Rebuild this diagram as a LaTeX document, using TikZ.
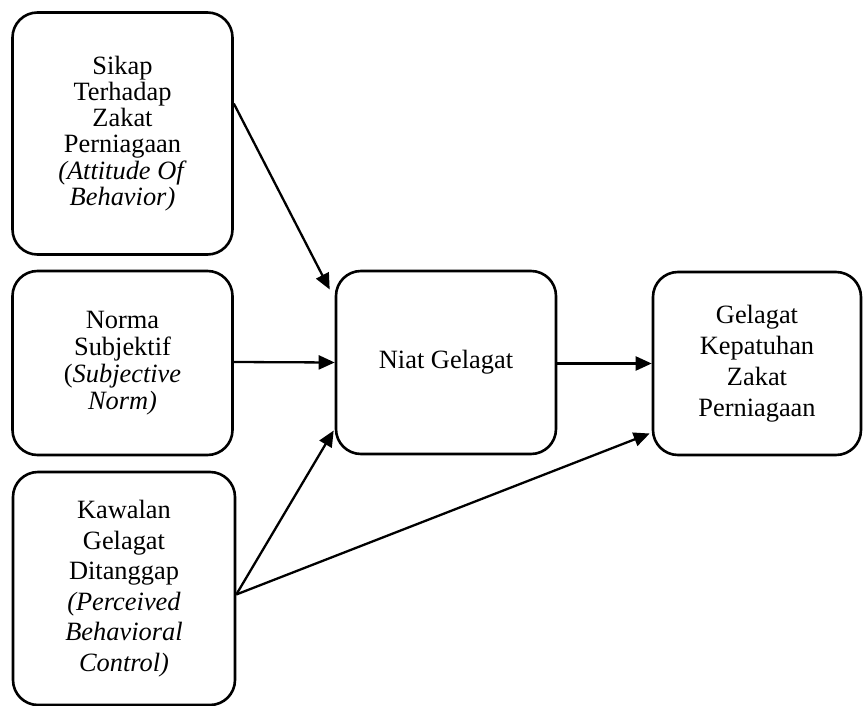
\documentclass[tikz,border=0pt]{standalone}
\usepackage{fontspec}
\setmainfont{Liberation Serif}
\usetikzlibrary{arrows.meta}
\begin{document}
\begin{tikzpicture}[x=1pt,y=-1pt,
  box/.style={draw, line width=2.6pt, rounded corners=25pt, align=center,
    inner sep=0pt},
  txt/.style={font=\fontsize{26.4}{#1}\selectfont},
  arr/.style={line width=2.3pt, -{Triangle[length=16pt,width=14pt]}}]
\useasboundingbox (0,0) rectangle (863,706);

% predictor constructs
\node[box, txt=26.3, minimum width=220pt, minimum height=242pt] (sikap) at (122.5,133.5)
  {Sikap\\Terhadap\\Zakat\\Perniagaan\\\textit{(Attitude Of}\\\textit{Behavior)}};
\node[box, txt=27, minimum width=220pt, minimum height=184pt] (norma) at (122.5,363)
  {Norma\\Subjektif\\(\textit{Subjective}\\\textit{Norm)}};
\node[box, txt=30.5, minimum width=222pt, minimum height=233pt] (kawalan) at (124,588.5)
  {Kawalan\\Gelagat\\Ditanggap\\\textit{(Perceived}\\\textit{Behavioral}\\\textit{Control)}};

% intention and behaviour
\node[box, txt=30, minimum width=220pt, minimum height=183pt] (niat) at (446,362.5)
  {Niat Gelagat};
\node[box, txt=31, minimum width=208pt, minimum height=183pt] (gelagat) at (757,363.5)
  {Gelagat\\Kepatuhan\\Zakat\\Perniagaan};

% paths (shifts are in canvas units: positive yshift points up)
\draw[arr] ([yshift=30pt]sikap.east) -- ([xshift=-5pt,yshift=73pt]niat.west);
\draw[arr] ([yshift=1pt]norma.east) -- (niat.west);
\draw[arr] ([yshift=-6pt]kawalan.east) -- ([xshift=-1pt,yshift=-68pt]niat.west);
\draw[arr] ([yshift=-6pt]kawalan.east) -- ([xshift=-2pt,yshift=-70pt]gelagat.west);
\draw[arr] ([yshift=-1pt]niat.east) -- (gelagat.west);
\end{tikzpicture}
\end{document}
